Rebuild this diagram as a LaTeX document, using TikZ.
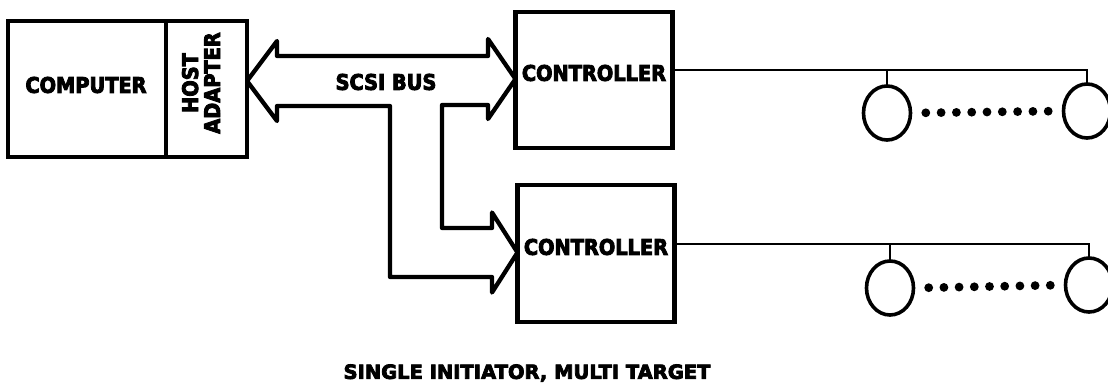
\documentclass[tikz,border=0pt]{standalone}
\usepackage{fontspec}
\usepackage{graphicx}
\newfontfamily\heavy{DejaVu Sans Bold}[FakeBold=4, FakeStretch=0.9]
\newfontfamily\heavycap{DejaVu Sans Bold}[FakeBold=4]
\usetikzlibrary{shapes.geometric,calc}
\begin{document}
\begin{tikzpicture}[x=1pt,y=-1pt,
  txt/.style={font=\heavy\fontsize{21.5}{25}\selectfont, inner sep=0pt},
  captxt/.style={font=\heavycap\fontsize{19.5}{23}\selectfont, inner sep=0pt},
  box/.style={draw, line width=4.3pt, inner sep=0pt, outer sep=0pt},
  bus/.style={draw, line width=4.3pt, line join=round},
  wire/.style={draw, line width=2.4pt},
  drive/.style={draw, ellipse, line width=3.6pt, minimum width=47pt, minimum height=54pt, inner sep=0pt, outer sep=0pt},
  dot/.style={fill=black}
]
\useasboundingbox (0,0) rectangle (1108,388);
% computer and host adapter
\node[box, minimum width=158pt, minimum height=136pt] (comp) at (87,89) {};
\node[txt] (compt) at (86,85) {COMPUTER};
\node[box, minimum width=81pt, minimum height=136pt] (host) at (206.5,89) {};
\node[txt] (hostt) at (204,83) {\rotatebox{90}{\begin{tabular}{@{}c@{}}HOST\\[-3pt]ADAPTER\end{tabular}}};
% controllers
\node[box, minimum width=157pt, minimum height=136pt] (ctrl1) at (594,80) {};
\node[txt] (c1t) at (594,73) {CONTROLLER};
\node[box, minimum width=157pt, minimum height=137pt] (ctrl2) at (596,253.5) {};
\node[txt] (c2t) at (596,247) {CONTROLLER};
% SCSI bus shape
\path[bus] (host.east |- 0,81) -- (277,41) -- (277,56) -- (488,56) -- (488,39)
  -- (ctrl1.west |- 0,79) -- (488,119) -- (488,105) -- (442,105) -- (442,228)
  -- (492,228) -- (492,212.5) -- (ctrl2.west |- 0,252.5) -- (492,292.5) -- (492,277)
  -- (390,277) -- (390,106) -- (277,106) -- (277,121) -- cycle;
\node[txt] (bust) at (386,82) {SCSI BUS};
% drives
\node[drive] (d11) at (887,113) {};
\node[drive] (d12) at (1087,111) {};
\node[drive] (d21) at (890,288) {};
\node[drive] (d22) at (1089,285) {};
\coordinate (w1) at (ctrl1.east |- 0,70);
\coordinate (w2) at (ctrl2.east |- 0,244);
\draw[wire] (w1) -- (w1 -| d12.north) -- (d12.north);
\draw[wire] (w1 -| d11.north) -- (d11.north);
\draw[wire] (w2) -- (w2 -| d22.north) -- (d22.north);
\draw[wire] (w2 -| d21.north) -- (d21.north);
\foreach \i in {1,...,9} {
  \fill[dot] ($(d11.east)!{\i/10}!(d12.west)$) circle (4.4);
  \fill[dot] ($(d21.east)!{\i/10}!(d22.west)$) circle (4.4);
}
% caption
\node[captxt] (cap) at (527,373) {SINGLE INITIATOR, MULTI TARGET};
\end{tikzpicture}
\end{document}
